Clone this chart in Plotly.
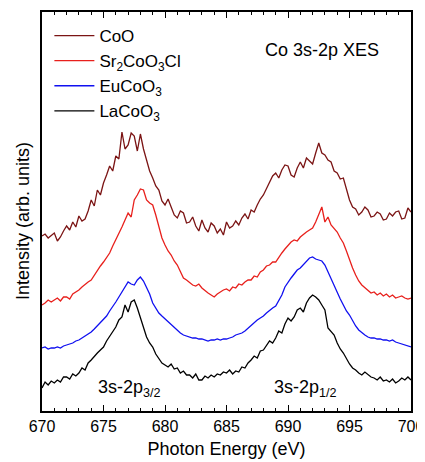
import plotly.graph_objects as go

energy_start = 670.0
energy_step = 0.25
n_points = 121
energy = [energy_start + i * energy_step for i in range(n_points)]

coo = [
    175, 177, 173, 176, 178, 170, 174, 180, 185, 181, 189, 184,
    195, 190, 192, 200, 211, 205, 221, 216, 228, 236, 245, 240,
    255, 252, 279, 262, 266, 278, 275, 260, 277, 262, 251, 240,
    233, 225, 221, 210, 206, 212, 204, 196, 193, 200, 198, 188,
    189, 194, 185, 180, 191, 183, 179, 188, 185, 178, 182, 176,
    189, 183, 185, 190, 186, 193, 197, 192, 201, 199, 206, 212,
    216, 222, 229, 235, 238, 233, 241, 246, 245, 236, 234, 243,
    249, 243, 253, 250, 247, 258, 268, 258, 256, 251, 249, 240,
    238, 232, 233, 222, 211, 204, 202, 196, 199, 204, 201, 194,
    195, 199, 197, 191, 192, 198, 195, 199, 200, 192, 193, 203,
    199,
]

sr2coo3cl = [
    106, 108, 111, 109, 111, 113, 110, 114, 114, 112, 117, 119,
    121, 124, 127, 129, 131, 136, 141, 145, 149, 153, 158, 165,
    171, 177, 184, 191, 198, 194, 211, 216, 222, 221, 211, 208,
    206, 196, 183, 173, 166, 160, 156, 150, 146, 139, 133, 131,
    128, 126, 125, 127, 123, 120, 118, 116, 114, 117, 119, 121,
    122, 120, 124, 123, 127, 126, 129, 131, 131, 135, 134, 139,
    141, 145, 146, 149, 149, 154, 158, 162, 166, 169, 171, 170,
    174, 177, 179, 181, 183, 189, 196, 204, 189, 194, 186, 182,
    179, 173, 168, 160, 151, 143, 136, 130, 126, 123, 120, 118,
    119, 116, 118, 115, 117, 114, 116, 113, 114, 115, 113, 112,
    113,
]

eucoo3 = [
    63, 64, 62, 63, 63, 64, 63, 65, 66, 67, 68, 70,
    71, 73, 75, 77, 79, 82, 85, 88, 91, 95, 100, 104,
    109, 114, 119, 123, 129, 127, 126, 131, 134, 130, 124, 117,
    108, 103, 98, 95, 92, 89, 86, 84, 81, 78, 76, 75,
    74, 73, 73, 72, 72, 71, 70, 71, 71, 72, 71, 72,
    72, 73, 74, 76, 77, 78, 80, 83, 85, 88, 91, 93,
    95, 98, 101, 103, 105, 110, 116, 124, 129, 133, 137, 141,
    143, 146, 150, 153, 154, 152, 151, 150, 146, 139, 133, 125,
    119, 112, 106, 100, 96, 90, 85, 81, 78, 76, 74, 73,
    73, 72, 72, 71, 71, 70, 71, 69, 68, 67, 66, 65,
    64,
]

lacoo3 = [
    23, 29, 26, 30, 28, 31, 29, 34, 34, 32, 37, 35,
    38, 43, 41, 48, 51, 55, 58, 61, 64, 70, 75, 80,
    84, 91, 94, 106, 99, 109, 111, 103, 94, 85, 74, 68,
    64, 57, 52, 48, 46, 44, 47, 42, 43, 38, 40, 36,
    36, 33, 37, 31, 31, 35, 33, 36, 34, 37, 36, 39,
    38, 41, 37, 40, 39, 44, 43, 48, 51, 55, 53, 60,
    61, 65, 70, 68, 73, 80, 78, 87, 93, 90, 94, 101,
    103, 99, 108, 113, 116, 114, 111, 106, 101, 83, 80, 76,
    68, 62, 58, 52, 47, 43, 41, 38, 36, 39, 36, 34,
    33, 31, 34, 30, 31, 29, 32, 28, 30, 33, 31, 34,
    31,
]

series_names = ["CoO", "Sr<sub>2</sub>CoO<sub>3</sub>Cl", "EuCoO<sub>3</sub>", "LaCoO<sub>3</sub>"]
series_values = [coo, sr2coo3cl, eucoo3, lacoo3]
series_colors = ["#7b1414", "#e8201c", "#1010f0", "#000000"]

x_tick_vals = [670, 675, 680, 685, 690, 695, 700]
x_tick_text = ["670", "675", "680", "685", "690", "695", "700"]

font_family = "Liberation Sans, Arial, sans-serif"

fig = go.Figure()
for name, vals, col in zip(series_names, series_values, series_colors):
    fig.add_trace(go.Scatter(
        x=energy, y=vals, mode="lines", name=name,
        line=dict(color=col, width=1.3),
    ))

# page body has an 8px margin, so the figure is 8px smaller than the window
fig.update_layout(
    width=417, height=454,
    margin=dict(l=34, r=14, t=4, b=51),
    paper_bgcolor="white", plot_bgcolor="white",
    font=dict(family=font_family, size=16, color="black"),
    showlegend=True,
    legend=dict(
        x=0.02, y=0.985, xanchor="left", yanchor="top",
        bgcolor="rgba(0,0,0,0)", borderwidth=0,
        font=dict(size=17, family=font_family),
        tracegroupgap=0, itemwidth=40,
    ),
    xaxis=dict(
        range=[670, 700], tickvals=x_tick_vals, ticktext=x_tick_text,
        ticks="inside", ticklen=6, tickwidth=1, tickcolor="black",
        showline=True, linecolor="black", linewidth=1.5, mirror="ticks",
        showgrid=False, zeroline=False, automargin=False,
        tickfont=dict(size=16),
        minor=dict(dtick=1, ticks="inside", ticklen=3, tickcolor="black", tickwidth=1),
        title=dict(text="Photon Energy (eV)", font=dict(size=18), standoff=8),
    ),
    yaxis=dict(
        range=[0, 399], showticklabels=False, ticks="",
        showline=True, linecolor="black", linewidth=1.5, mirror=True,
        showgrid=False, zeroline=False, automargin=False,
    ),
    annotations=[
        dict(text="Intensity (arb. units)", xref="paper", yref="y", x=0, y=190,
             xshift=-19, textangle=-90, showarrow=False, font=dict(size=18),
             xanchor="center", yanchor="middle"),
        dict(text="Co 3s-2p XES", xref="x", yref="y", x=692.8, y=361,
             showarrow=False, font=dict(size=18), xanchor="center", yanchor="middle"),
        dict(text="3s-2p<sub>3/2</sub>", xref="x", yref="y", x=677.1, y=23,
             showarrow=False, font=dict(size=18), xanchor="center", yanchor="middle"),
        dict(text="3s-2p<sub>1/2</sub>", xref="x", yref="y", x=691.4, y=23,
             showarrow=False, font=dict(size=18), xanchor="center", yanchor="middle"),
    ],
)

fig.write_html("out.html")
